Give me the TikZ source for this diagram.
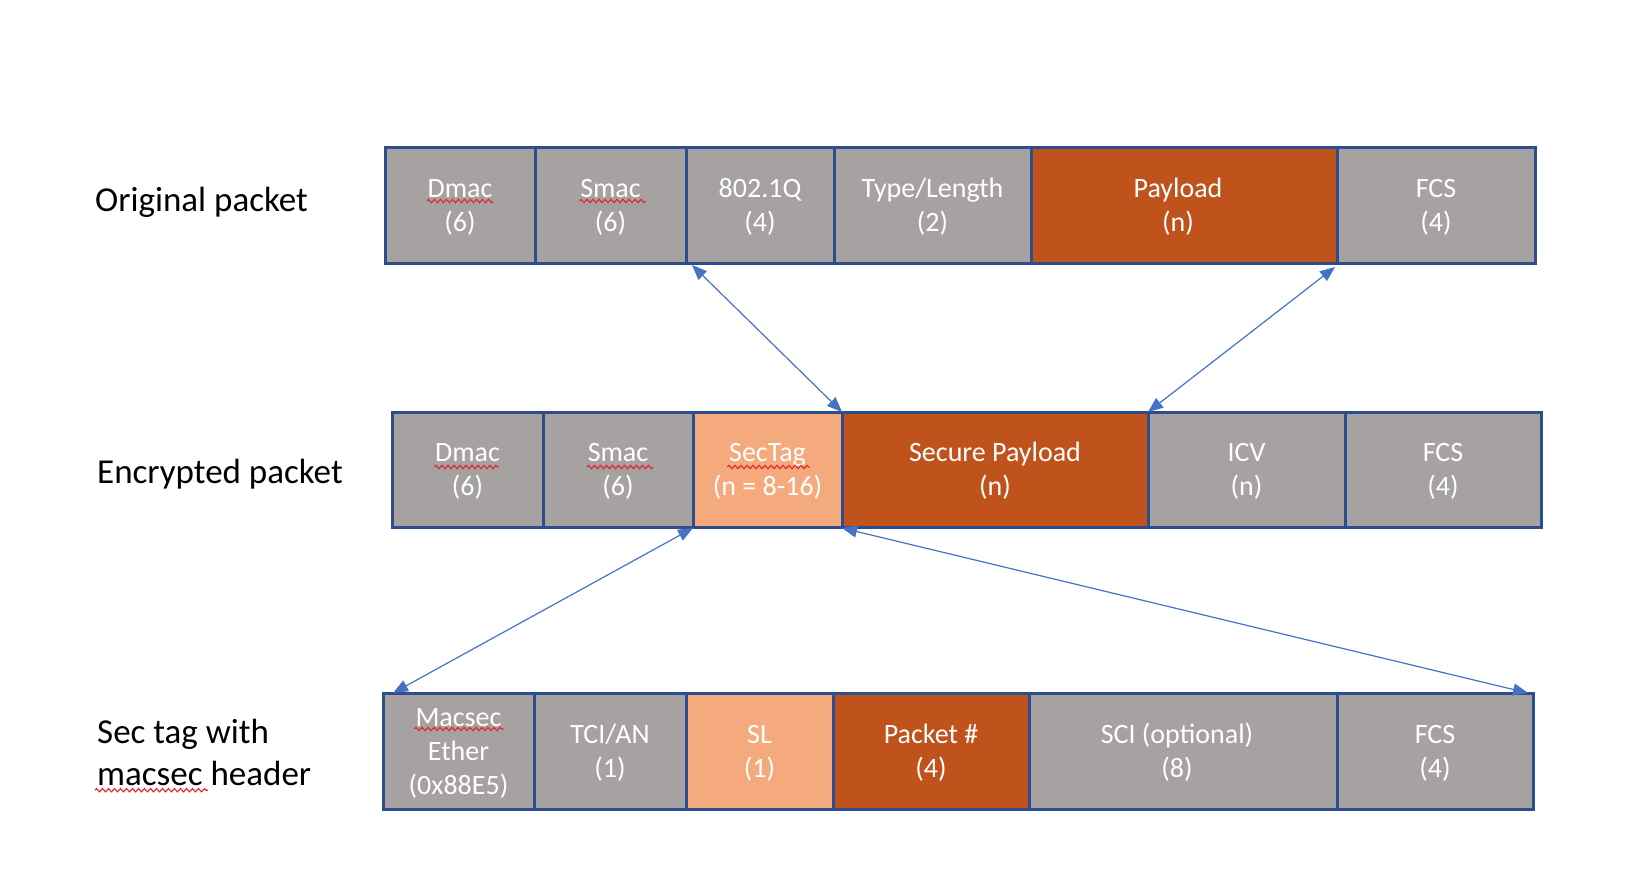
\documentclass[tikz,border=0pt]{standalone}
\usepackage{fontspec}
\setmainfont{Carlito}
\usetikzlibrary{arrows.meta,calc,decorations.pathmorphing}
\definecolor{gry}{HTML}{A6A2A1}
\definecolor{dorg}{HTML}{C0521C}
\definecolor{lorg}{HTML}{F4AA7D}
\definecolor{bord}{HTML}{2E4D8C}
\definecolor{arrc}{HTML}{4472C4}
\definecolor{sqred}{HTML}{E8222A}
\newcommand\bstr{\rule[-8pt]{0pt}{34pt}}
\newcommand\lstr{\rule[-12pt]{0pt}{42pt}}
\tikzset{
  fld/.style n args={3}{inner sep=0pt, outer sep=0pt,
    anchor=north west, minimum width=#1pt, minimum height=#2pt, fill=#3,
    text=white, align=center, font=\fontsize{28}{34}\selectfont},
  brd/.style={draw=bord, line width=3pt},
  rowlabel/.style={anchor=west, inner sep=0pt, align=left, text=black,
    font=\fontsize{35}{42}\selectfont},
  squig/.style={draw=sqred, line width=1.1pt,
    decorate, decoration={zigzag, segment length=6pt, amplitude=1.7pt}},
  arr/.style={draw=arrc, line width=1.2pt,
    {Triangle[length=15pt,width=12pt]}-{Triangle[length=15pt,width=12pt]}}
}
\begin{document}
\begin{tikzpicture}[x=1pt,y=-1pt]
\useasboundingbox (0,0) rectangle (1630,892);

% row labels
\node[rowlabel] (l1) at (95,202) {\lstr Original packet};
\node[rowlabel] (l2) at (97,474) {\lstr Encrypted packet};
\node[rowlabel] (l3) at (97,755) {\lstr Sec tag with\\\lstr macsec header};

% original packet
\node[fld={150}{116}{gry}] (o1) at (385,147) {\bstr Dmac\\\bstr (6)};
\node[fld={151}{116}{gry}] (o2) at (535,147) {\bstr Smac\\\bstr (6)};
\node[fld={148}{116}{gry}] (o3) at (686,147) {\bstr 802.1Q\\\bstr (4)};
\node[fld={197}{116}{gry}] (o4) at (834,147) {\bstr Type/Length\\\bstr (2)};
\node[fld={306}{116}{dorg}] (o5) at (1031,147) {\bstr Payload\hspace*{12pt}\\\bstr (n)\hspace*{12pt}};
\node[fld={198}{116}{gry}] (o6) at (1337,147) {\bstr FCS\\\bstr (4)};

% encrypted packet
\node[fld={151}{115}{gry}] (e1) at (392,412) {\bstr Dmac\\\bstr (6)};
\node[fld={150}{115}{gry}] (e2) at (543,412) {\bstr Smac\\\bstr (6)};
\node[fld={149}{115}{lorg}] (e3) at (693,412) {\bstr SecTag\\\bstr (n = 8-16)};
\node[fld={306}{115}{dorg}] (e4) at (842,412) {\bstr Secure Payload\\\bstr (n)};
\node[fld={197}{115}{gry}] (e5) at (1148,412) {\bstr ICV\\\bstr (n)};
\node[fld={196}{115}{gry}] (e6) at (1345,412) {\bstr FCS\\\bstr (4)};

% sec tag
\node[fld={151}{116}{gry}] (s1) at (383,693) {\bstr Macsec\\\bstr Ether\\\bstr (0x88E5)};
\node[fld={152}{116}{gry}] (s2) at (534,693) {\bstr TCI/AN\\\bstr (1)};
\node[fld={147}{116}{lorg}] (s3) at (686,693) {\bstr SL\\\bstr (1)};
\node[fld={196}{116}{dorg}] (s4) at (833,693) {\bstr Packet \#\\\bstr (4)};
\node[fld={308}{116}{gry}] (s5) at (1029,693) {\bstr SCI (optional)\hspace*{12pt}\\\bstr (8)\hspace*{12pt}};
\node[fld={196}{116}{gry}] (s6) at (1337,693) {\bstr FCS\\\bstr (4)};

% field borders drawn over all fills
\foreach \n in {o1,o2,o3,o4,o5,o6,e1,e2,e3,e4,e5,e6,s1,s2,s3,s4,s5,s6}
  \draw[brd] (\n.north west) rectangle (\n.south east);

% spell-check squiggles
\draw[squig] ($(o1.north)+(-33,54)$) -- ++(66,0);
\draw[squig] ($(o2.north)+(-31,54)$) -- ++(66,0);
\draw[squig] ($(e1.north)+(-33,55)$) -- ++(64,0);
\draw[squig] ($(e2.north)+(-31,55)$) -- ++(66,0);
\draw[squig] ($(e3.north)+(-40,55)$) -- ++(82,0);
\draw[squig] ($(s1.north)+(-44,36)$) -- ++(89,0);
\draw[squig] ($(l3.south west)+(-2,-7)$) -- ++(113,0);

% connectors
\draw[arr] ([xshift=6pt,yshift=-2pt]o3.south west) -- (e4.north west);
\draw[arr] ([xshift=-2pt,yshift=-4pt]o6.south west) -- (e5.north west);
\draw[arr] ([yshift=-1pt]e3.south west) -- ([xshift=10pt]s1.north west);
\draw[arr] ([yshift=-1pt]e4.south west) -- ([xshift=-5pt]s6.north east);
\end{tikzpicture}
\end{document}
